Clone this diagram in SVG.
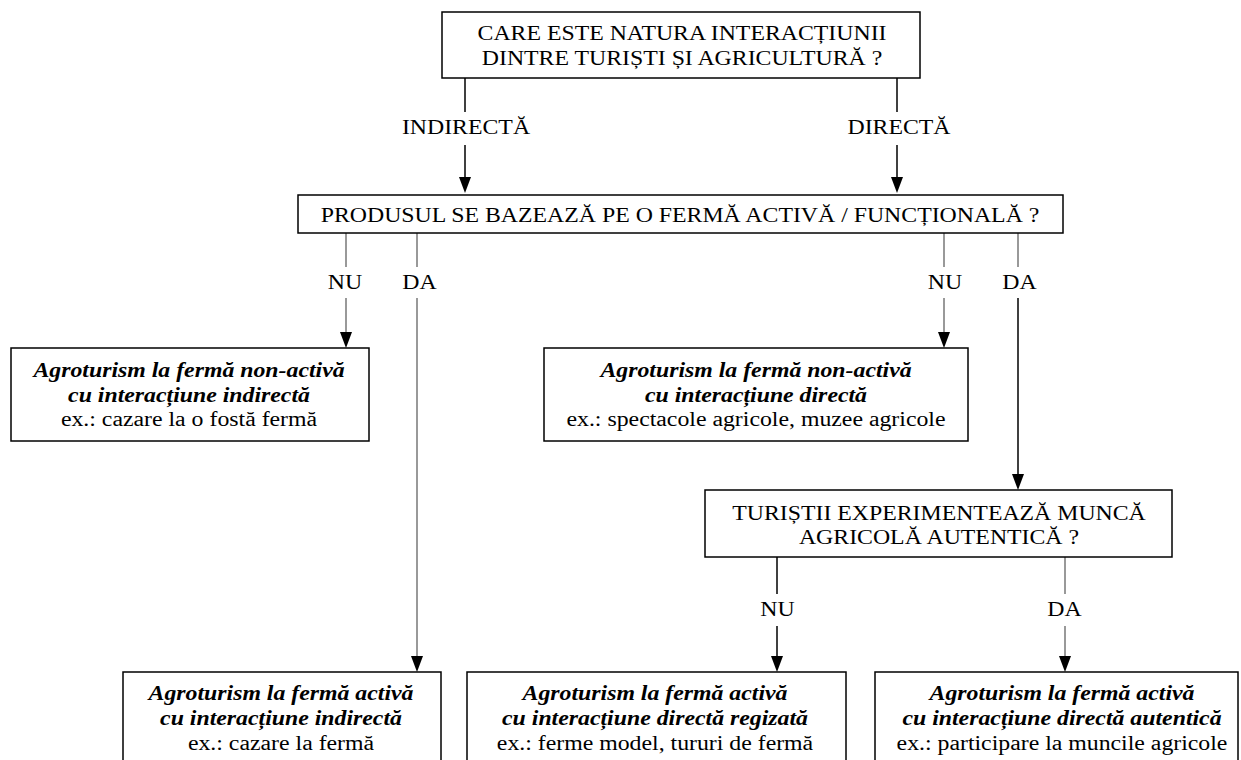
<svg xmlns="http://www.w3.org/2000/svg" width="1241" height="760" viewBox="0 0 1241 760">
<style>
.box{fill:#fff;stroke:#000;stroke-width:1.5}
text{font-family:"Liberation Serif","Times New Roman",serif;font-size:20px;fill:#000;text-anchor:middle}
.bi{font-weight:bold;font-style:italic}
.k{stroke:#000;stroke-width:1.5;fill:none}
.g{stroke:#777;stroke-width:1.5;fill:none}
.ah{fill:#000}
</style>
<rect width="1241" height="760" fill="#fff"/>
<g id="connectors">
<line class="k" x1="465" y1="78" x2="465" y2="112"/>
<line class="k" x1="465" y1="145" x2="465" y2="177"/>
<path class="ah" d="M459,177 L471,177 L465,193 Z"/>
<line class="k" x1="897" y1="78" x2="897" y2="112"/>
<line class="k" x1="897" y1="145" x2="897" y2="177"/>
<path class="ah" d="M891,177 L903,177 L897,193 Z"/>

<line class="g" x1="346" y1="233" x2="346" y2="267"/>
<line class="g" x1="346" y1="298" x2="346" y2="332"/>
<path class="ah" d="M340,332 L352,332 L346,348 Z"/>
<line class="g" x1="417" y1="233" x2="417" y2="267"/>
<line class="g" x1="417" y1="298" x2="417" y2="656"/>
<path class="ah" d="M411,656 L423,656 L417,672 Z"/>

<line class="g" x1="944" y1="233" x2="944" y2="267"/>
<line class="g" x1="944" y1="298" x2="944" y2="332"/>
<path class="ah" d="M938,332 L950,332 L944,348 Z"/>
<line class="g" x1="1018" y1="233" x2="1018" y2="267"/>
<line class="k" x1="1018" y1="298" x2="1018" y2="474"/>
<path class="ah" d="M1012,474 L1024,474 L1018,490 Z"/>

<line class="k" x1="777" y1="557" x2="777" y2="594"/>
<line class="k" x1="777" y1="626" x2="777" y2="656"/>
<path class="ah" d="M771,656 L783,656 L777,672 Z"/>
<line class="g" x1="1065" y1="557" x2="1065" y2="594"/>
<line class="g" x1="1065" y1="626" x2="1065" y2="656"/>
<path class="ah" d="M1059,656 L1071,656 L1065,672 Z"/>

<text transform="translate(466,134) scale(1.19,1)">INDIRECTĂ</text>
<text transform="translate(899,134) scale(1.19,1)">DIRECTĂ</text>
<text transform="translate(345,289) scale(1.19,1)">NU</text>
<text transform="translate(419.5,289) scale(1.19,1)">DA</text>
<text transform="translate(945,289) scale(1.19,1)">NU</text>
<text transform="translate(1019.5,289) scale(1.19,1)">DA</text>
<text transform="translate(777.5,616) scale(1.19,1)">NU</text>
<text transform="translate(1064.5,616) scale(1.19,1)">DA</text>
</g>

<g id="q1">
<rect class="box" x="442" y="12" width="478" height="66"/>
<text transform="translate(682,40) scale(1.19,1)">CARE ESTE NATURA INTERACȚIUNII</text>
<text transform="translate(682,65) scale(1.19,1)">DINTRE TURIȘTI ȘI AGRICULTURĂ ?</text>
</g>
<g id="q2">
<rect class="box" x="298" y="195" width="765" height="38"/>
<text transform="translate(680,222) scale(1.19,1)">PRODUSUL SE BAZEAZĂ PE O FERMĂ ACTIVĂ / FUNCȚIONALĂ ?</text>
</g>
<g id="r1">
<rect class="box" x="11" y="348" width="358" height="93"/>
<text class="bi" transform="translate(189,377) scale(1.19,1)">Agroturism la fermă non-activă</text>
<text class="bi" transform="translate(189,402) scale(1.19,1)">cu interacțiune indirectă</text>
<text transform="translate(189,426) scale(1.19,1)">ex.: cazare la o fostă fermă</text>
</g>
<g id="r2">
<rect class="box" x="544" y="348" width="424" height="93"/>
<text class="bi" transform="translate(756,377) scale(1.19,1)">Agroturism la fermă non-activă</text>
<text class="bi" transform="translate(756,402) scale(1.19,1)">cu interacțiune directă</text>
<text transform="translate(756,426) scale(1.19,1)">ex.: spectacole agricole, muzee agricole</text>
</g>
<g id="q3">
<rect class="box" x="705" y="490" width="467" height="67"/>
<text transform="translate(939,520) scale(1.19,1)">TURIȘTII EXPERIMENTEAZĂ MUNCĂ</text>
<text transform="translate(939,544) scale(1.19,1)">AGRICOLĂ AUTENTICĂ ?</text>
</g>
<g id="r3">
<rect class="box" x="123" y="672" width="318" height="110"/>
<text class="bi" transform="translate(281,700) scale(1.19,1)">Agroturism la fermă activă</text>
<text class="bi" transform="translate(281,725) scale(1.19,1)">cu interacțiune indirectă</text>
<text transform="translate(281,750) scale(1.19,1)">ex.: cazare la fermă</text>
</g>
<g id="r4">
<rect class="box" x="467" y="672" width="379" height="110"/>
<text class="bi" transform="translate(655,700) scale(1.19,1)">Agroturism la fermă activă</text>
<text class="bi" transform="translate(655,725) scale(1.19,1)">cu interacțiune directă regizată</text>
<text transform="translate(655,750) scale(1.19,1)">ex.: ferme model, tururi de fermă</text>
</g>
<g id="r5">
<rect class="box" x="875" y="672" width="363" height="110"/>
<text class="bi" transform="translate(1062,700) scale(1.19,1)">Agroturism la fermă activă</text>
<text class="bi" transform="translate(1062,725) scale(1.19,1)">cu interacțiune directă autentică</text>
<text transform="translate(1062,750) scale(1.19,1)">ex.: participare la muncile agricole</text>
</g>
</svg>
